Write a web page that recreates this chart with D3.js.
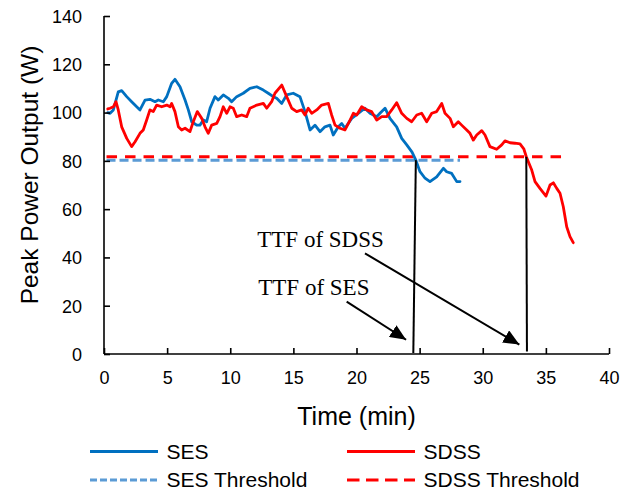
<!DOCTYPE html>
<html>
<head>
<meta charset="utf-8">
<script src="https://cdn.jsdelivr.net/npm/d3@7"></script>
<style>
  html, body { margin: 0; padding: 0; background: #fff; }
  svg { display: block; }
</style>
</head>
<body>
<svg id="chart" width="633" height="493"></svg>
<script>
// Peak power output over time for the two protocols
const sesTime = [0.3, 0.48, 0.74, 1.13, 1.40, 1.80, 2.19, 2.59, 2.85, 3.25, 3.64, 4.04, 4.30, 4.70, 4.97, 5.36, 5.62, 6.02, 6.42, 6.68, 6.95, 7.34, 7.60, 7.87, 8.13, 8.40, 8.79, 9.05, 9.45, 9.85, 10.11, 10.51, 11.03, 11.56, 12.10, 12.62, 13.01, 13.41, 13.68, 14.08, 14.47, 14.99, 15.52, 15.92, 16.32, 16.71, 17.11, 17.50, 17.90, 18.16, 18.56, 18.83, 19.09, 19.62, 20.14, 20.67, 21.07, 21.60, 21.86, 22.26, 22.65, 23.18, 23.58, 23.98, 24.40, 24.70, 25.03, 25.40, 25.82, 26.35, 26.88, 27.14, 27.54, 27.94, 28.20];
const sesPower = [100.0, 99.7, 101.1, 108.6, 109.1, 106.6, 104.5, 102.4, 101.1, 105.2, 105.5, 104.5, 105.2, 104.5, 106.6, 112.1, 113.8, 110.7, 105.2, 101.1, 96.2, 94.8, 94.8, 96.9, 96.2, 101.8, 106.6, 105.2, 107.3, 105.9, 104.5, 106.6, 108.0, 110.0, 110.7, 109.3, 108.0, 106.6, 105.9, 103.8, 107.3, 108.0, 106.6, 100.4, 92.8, 94.8, 92.1, 94.1, 94.8, 90.7, 94.1, 95.5, 93.5, 97.6, 99.7, 101.8, 99.7, 98.3, 99.7, 101.8, 97.6, 94.1, 89.3, 86.6, 83.6, 80.3, 75.5, 73.0, 71.4, 73.4, 76.9, 75.5, 74.8, 71.4, 71.4];

const sdssTime = [0.3, 0.48, 0.74, 0.95, 1.13, 1.40, 1.80, 2.19, 2.46, 2.85, 3.11, 3.38, 3.64, 3.90, 4.17, 4.57, 4.97, 5.23, 5.36, 5.62, 5.89, 6.15, 6.42, 6.81, 7.07, 7.39, 7.74, 8.00, 8.26, 8.53, 8.93, 9.19, 9.45, 9.72, 9.98, 10.24, 10.51, 10.91, 11.30, 11.56, 12.10, 12.62, 12.89, 13.28, 13.54, 14.08, 14.47, 14.87, 15.26, 15.66, 15.92, 16.18, 16.45, 16.85, 17.24, 17.77, 18.03, 18.30, 18.69, 19.09, 19.49, 19.75, 20.02, 20.41, 20.81, 21.20, 21.60, 22.00, 22.39, 22.79, 23.18, 23.58, 23.98, 24.37, 24.77, 25.16, 25.56, 25.96, 26.35, 26.75, 27.01, 27.41, 27.67, 28.06, 28.33, 28.73, 28.99, 29.25, 29.52, 29.92, 30.18, 30.57, 31.10, 31.50, 31.76, 32.16, 32.55, 32.95, 33.25, 33.45, 33.70, 33.88, 34.14, 34.53, 35.01, 35.33, 35.59, 35.86, 36.12, 36.38, 36.65, 36.91, 37.17];
const sdssPower = [101.5, 101.8, 102.4, 104.5, 101.1, 94.1, 89.3, 85.9, 87.9, 91.4, 92.8, 96.9, 101.1, 100.4, 103.1, 102.4, 103.1, 102.4, 103.8, 100.4, 94.1, 92.8, 93.5, 92.1, 96.2, 100.4, 97.6, 94.1, 91.4, 94.8, 95.5, 98.3, 102.4, 99.7, 102.4, 101.8, 98.3, 99.0, 98.3, 101.8, 103.1, 103.8, 101.8, 104.5, 108.0, 111.4, 106.6, 101.8, 100.4, 101.1, 99.0, 101.8, 99.7, 101.1, 103.1, 103.8, 99.0, 94.8, 93.5, 92.8, 96.9, 99.7, 99.0, 102.4, 101.1, 100.4, 96.9, 98.3, 98.3, 101.1, 104.1, 99.7, 97.6, 96.2, 99.0, 99.7, 96.2, 99.7, 100.4, 103.8, 99.7, 97.6, 94.1, 96.2, 94.8, 92.8, 91.4, 88.6, 90.7, 92.5, 90.7, 85.9, 84.8, 86.6, 88.3, 87.5, 87.3, 87.0, 85.0, 81.7, 78.5, 76.2, 71.4, 68.6, 65.4, 70.0, 70.9, 68.6, 66.6, 61.0, 52.7, 48.6, 46.1];

// Failure thresholds (W) and times to task failure (min)
const sesThreshold = 80.3;
const sdssThreshold = 81.7;
const ttfSesTop = 24.70, ttfSesBottom = 24.50;
const ttfSdssTop = 33.45, ttfSdssBottom = 33.50;

// Tick values
const xTicks = [0, 5, 10, 15, 20, 25, 30, 35, 40];
const yTicks = [0, 20, 40, 60, 80, 100, 120, 140];

// Annotations: label anchor and arrow start/end in data units
const annotations = [
  { text: "TTF of SDSS", x: 12.14, y: 44.4, from: [20.67, 41.7], to: [32.9, 3.9] },
  { text: "TTF of SES",  x: 12.22, y: 24.4, from: [19.22, 21.7], to: [23.93, 5.9] }
];

const legendItems = [
  { label: "SES", color: "#0070C0", dash: null, width: 3 },
  { label: "SDSS", color: "#FF0000", dash: null, width: 3 },
  { label: "SES Threshold", color: "#5B9BD5", dash: "7,3", width: 3 },
  { label: "SDSS Threshold", color: "#FF0000", dash: "12.5,6.5", width: 3 }
];

const svg = d3.select("#chart");
const x = d3.scaleLinear().domain([0, 40]).range([104, 609]);
const y = d3.scaleLinear().domain([0, 140]).range([354, 16]);

const sans = "'Liberation Sans', Arial, sans-serif";
const serif = "'Liberation Serif', 'Times New Roman', serif";

const line = d3.line().x(d => x(d[0])).y(d => y(d[1]));

// Threshold lines (drawn beneath the data)
svg.append("path")
  .attr("d", line([[0.2, sesThreshold], [sesTime[sesTime.length - 1], sesThreshold]]))
  .attr("fill", "none").attr("stroke", "#5B9BD5").attr("stroke-width", 3)
  .attr("stroke-dasharray", "9,4");
svg.append("path")
  .attr("d", line([[0.2, sdssThreshold], [36.7, sdssThreshold]]))
  .attr("fill", "none").attr("stroke", "#FF0000").attr("stroke-width", 3)
  .attr("stroke-dasharray", "10.5,8");

// Data series
svg.append("path")
  .attr("d", line(sesTime.map((t, i) => [t, sesPower[i]])))
  .attr("fill", "none").attr("stroke", "#0070C0").attr("stroke-width", 2.8)
  .attr("stroke-linejoin", "round").attr("stroke-linecap", "round");
svg.append("path")
  .attr("d", line(sdssTime.map((t, i) => [t, sdssPower[i]])))
  .attr("fill", "none").attr("stroke", "#FF0000").attr("stroke-width", 2.8)
  .attr("stroke-linejoin", "round").attr("stroke-linecap", "round");

// TTF drop lines
svg.append("path")
  .attr("d", line([[ttfSesTop, sesThreshold], [ttfSesBottom, 0.4]]))
  .attr("stroke", "#000").attr("stroke-width", 2).attr("fill", "none");
svg.append("path")
  .attr("d", line([[ttfSdssTop, sdssThreshold], [ttfSdssBottom, 1.0]]))
  .attr("stroke", "#000").attr("stroke-width", 2).attr("fill", "none");

// Axes
const xAxis = d3.axisBottom(x).tickValues(xTicks).tickSize(-6).tickPadding(14).tickFormat(d3.format("d"));
const yAxis = d3.axisLeft(y).tickValues(yTicks).tickSize(-6).tickPadding(22).tickFormat(d3.format("d"));

const gx = svg.append("g").attr("transform", `translate(0,${y(0)})`).call(xAxis);
const gy = svg.append("g").attr("transform", `translate(${x(0)},0)`).call(yAxis);
[gx, gy].forEach(g => {
  g.select(".domain").attr("stroke", "#000").attr("stroke-width", 1.6);
  g.selectAll(".tick line").attr("stroke", "#000").attr("stroke-width", 1.6);
  g.selectAll(".tick text").attr("fill", "#000").attr("font-family", sans).attr("font-size", 18);
});
gx.select(".domain").attr("d", `M${x(0)},0H${x(40)}`);
gy.select(".domain").attr("d", `M0,${y(0)}V${y(140)}`);
gx.selectAll(".tick text").attr("dy", "0.71em").attr("y", 17);
gy.selectAll(".tick text").attr("dy", "0.35em");

// Axis titles
svg.append("text")
  .attr("x", (x(0) + x(40)) / 2).attr("y", 425)
  .attr("text-anchor", "middle").attr("font-family", sans).attr("font-size", 25)
  .attr("fill", "#000").text("Time (min)");
svg.append("text")
  .attr("transform", "translate(38,175) rotate(-90)")
  .attr("text-anchor", "middle").attr("font-family", sans).attr("font-size", 24.5)
  .attr("fill", "#000").text("Peak Power Output (W)");

// Arrow markers and annotation labels
svg.append("defs").append("marker")
  .attr("id", "arrowhead")
  .attr("markerUnits", "userSpaceOnUse")
  .attr("viewBox", "0 0 16 14")
  .attr("refX", 16).attr("refY", 7)
  .attr("markerWidth", 16).attr("markerHeight", 14)
  .attr("orient", "auto")
  .append("path").attr("d", "M0,0L16,7L0,14Z").attr("fill", "#000");

annotations.forEach(a => {
  svg.append("text")
    .attr("x", x(a.x)).attr("y", y(a.y))
    .attr("font-family", serif).attr("font-size", 23).attr("fill", "#000")
    .text(a.text);
  svg.append("path")
    .attr("d", line([a.from, a.to]))
    .attr("stroke", "#000").attr("stroke-width", 2).attr("fill", "none")
    .attr("marker-end", "url(#arrowhead)");
});

// Legend (two columns, two rows)
const legendCols = [90, 347];
const legendRows = [451.5, 480];
legendItems.forEach((item, i) => {
  const cx = legendCols[i % 2];
  const cy = legendRows[Math.floor(i / 2)];
  svg.append("line")
    .attr("x1", cx).attr("x2", cx + 68).attr("y1", cy).attr("y2", cy)
    .attr("stroke", item.color).attr("stroke-width", item.width)
    .attr("stroke-dasharray", item.dash);
  svg.append("text")
    .attr("x", cx + 76.5).attr("y", cy + 7)
    .attr("font-family", sans).attr("font-size", 21).attr("fill", "#000")
    .text(item.label);
});
</script>
</body>
</html>
